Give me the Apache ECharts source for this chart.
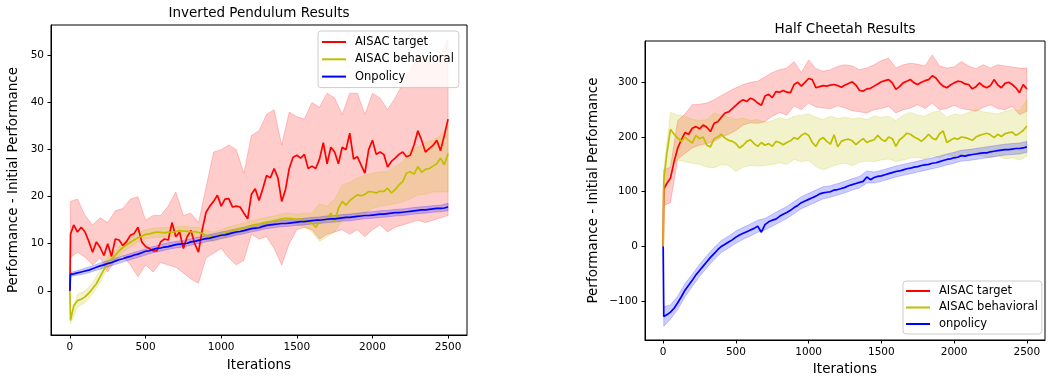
<!DOCTYPE html>
<html>
<head>
<meta charset="utf-8">
<style>
  html, body { margin: 0; padding: 0; background: #fff; }
  #main { width: 1053px; height: 382px; }
</style>
</head>
<body>
<div id="main"></div>
<script src="https://cdn.jsdelivr.net/npm/echarts@6/dist/echarts.min.js"></script>
<script>
// sample positions (iterations) for the mean curves and for the shaded bands
var iters = [0, 4];
for (var i = 25; i <= 2500; i += 25) iters.push(i);
var bandIters = [0, 4];
for (var j = 50; j <= 2500; j += 50) bandIters.push(j);

var xTicks = [0, 500, 1000, 1500, 2000, 2500];
var yTicksLeft = [0, 10, 20, 30, 40, 50];
var yTicksRight = [-100, 0, 100, 200, 300];

var namesLeft = ['AISAC target', 'AISAC behavioral', 'Onpolicy'];
var namesRight = ['AISAC target', 'AISAC behavioral', 'onpolicy'];

// ---- Inverted Pendulum ----
var targetL = [0, 12,
  14, 12.5, 13.5, 12.5, 10.5, 8.2, 10.4, 9.2, 7.5, 10,
  7.3, 11, 10.8, 9.6, 10.5, 11.8, 12.2, 13.5, 10.4, 9.4,
  9, 8.5, 8.5, 10.4, 11, 10.8, 14.5, 11.5, 12.5, 9,
  11.5, 12.8, 10, 8.2, 13, 16.7, 18, 19, 20.3, 18,
  19.5, 19.6, 17.8, 18, 17.8, 16.5, 15.3, 20.5, 21.7, 19.2,
  21.7, 24.5, 24, 26, 24, 19, 21.5, 26, 28.4, 28.8,
  28.2, 29, 26, 26.5, 26, 28, 31.5, 27, 30.5, 29.5,
  27, 30.5, 30, 33.5, 28, 28.5, 26.7, 25, 30, 32,
  29, 29.5, 29, 26.3, 27.5, 28.2, 29, 29.5, 28.5, 28.8,
  31, 34, 32, 29.5, 30.2, 30.9, 32, 29.8, 33, 36.5];
var behavL = [0, -6.3,
  -3.2, -2.1, -1.8, -1.3, -0.5, 0.5, 1.5, 3, 4.5, 6,
  6.8, 7.5, 8.5, 9.2, 9.8, 10.3, 10.8, 11.3, 11.6, 12,
  12.1, 12.3, 12.5, 12.4, 12.3, 12.5, 12.4, 12.6, 12.8, 12.7,
  12.7, 12.5, 12.6, 12.4, 12.2, 11.8, 11.6, 11.5, 11.7, 12,
  12.3, 12.6, 12.8, 13, 13.2, 13.4, 13.6, 13.9, 14.1, 14.2,
  14.4, 14.6, 14.7, 14.9, 15.1, 15.3, 15.4, 15.4, 15.3, 15.2,
  15.3, 15, 14.7, 14.4, 13.5, 14.8, 15, 15.2, 16.5, 14.8,
  17.5, 19, 18.2, 19.2, 19.8, 20.4, 20.2, 20.5, 21.1, 21,
  20.8, 21.2, 21.1, 21.8, 20.8, 21.5, 22.5, 23.2, 25, 25.3,
  24.8, 26.4, 25.2, 25.8, 26, 26.5, 27, 28.2, 26.8, 29.2];
var onpolL = [0, 3.5,
  3.6, 3.8, 4, 4.2, 4.4, 4.7, 5, 5.3, 5.5, 5.8,
  6, 6.3, 6.6, 6.8, 7.1, 7.3, 7.6, 7.8, 8.1, 8.4,
  8.5, 8.8, 9, 9.1, 9.3, 9.4, 9.6, 9.8, 9.9, 10,
  10.1, 10.4, 10.5, 10.7, 10.9, 11.1, 11.2, 11.4, 11.6, 11.8,
  11.9, 12.1, 12.3, 12.5, 12.6, 12.8, 13, 13.2, 13.3, 13.4,
  13.7, 13.9, 14, 14.1, 14.2, 14.3, 14.3, 14.4, 14.5, 14.6,
  14.7, 14.7, 14.8, 14.9, 15, 15, 15.1, 15.2, 15.3, 15.3,
  15.4, 15.5, 15.6, 15.6, 15.7, 15.8, 15.9, 16, 16, 16.1,
  16.2, 16.3, 16.3, 16.4, 16.5, 16.6, 16.6, 16.7, 16.8, 16.9,
  17, 17.1, 17.2, 17.2, 17.3, 17.4, 17.5, 17.5, 17.6, 17.8];

var targetLoL = [0, 7,
  8.2, 7.2, 5.5, 7, 4, 6.5, 7.5, 5.5, 3, 5.5,
  4, 6, 5.5, 5, 3.8, 2.5, 1.6, 7, 8, 9,
  7, 5.5, 6.5, 12, 11, 11.5, 9, 5.5, 10, 13,
  13.5, 13, 11, 12, 12.5, 13, 12, 13, 11.5, 13,
  14, 12.5, 13.5, 14, 14.5, 15, 14.5, 15, 15.5, 16];
var targetHiL = [0, 19,
  19.5, 16, 14, 15.5, 14.5, 17, 17.5, 19.5, 20, 15,
  16, 16, 18, 21, 16, 16.5, 14.5, 22, 29.5, 30,
  31, 30, 25, 33, 34, 37.5, 38.5, 31, 38, 37,
  36.5, 40, 39, 42, 41, 37.5, 42, 42, 37.5, 42,
  41, 38.5, 41, 44, 47, 50, 49, 48, 50, 53.5];
var behavLoL = [0, -7,
  -3.5, -2.5, -0.7, 1.8, 4.8, 6.6, 8.2, 9.3, 10.3, 11,
  11.3, 11.4, 11.5, 11.6, 11.7, 11.5, 11.3, 10.8, 10.5, 11,
  11.6, 12, 12.4, 12.9, 13.2, 13.6, 13.9, 14.2, 14.4, 14.2,
  13.5, 12.5, 10.5, 11.5, 12.5, 15, 15.5, 16, 16.5, 17.5,
  18, 18.2, 18.5, 18.9, 19.5, 20.4, 20.5, 21, 21, 21];
var behavHiL = [0, -5.5,
  -0.8, 0, 1.7, 4.3, 7.3, 8.6, 10.2, 11.3, 12.3, 13,
  13.3, 13.4, 13.5, 13.6, 13.7, 13.5, 13.5, 12.8, 12.5, 13,
  13.6, 14, 14.4, 14.9, 15.3, 15.6, 15.9, 16.4, 16.5, 16.3,
  16.5, 16.5, 18.5, 18, 19.5, 22.5, 23, 24, 24.5, 25,
  25.3, 25.3, 26.5, 27.4, 30, 30.5, 31.5, 32, 33, 35];
var onpolLoL = [0, 3.1,
  3.3, 3.6, 4.1, 4.6, 5.1, 5.6, 6.1, 6.6, 7.1, 7.6,
  8.1, 8.4, 8.8, 9.1, 9.3, 9.7, 10, 10.4, 10.7, 11.1,
  11.4, 11.8, 12.1, 12.5, 12.8, 13.2, 13.4, 13.6, 13.7, 13.9,
  14, 14.2, 14.3, 14.5, 14.6, 14.8, 14.9, 15.1, 15.3, 15.4,
  15.6, 15.7, 15.9, 16, 16.2, 16.4, 16.5, 16.7, 16.8, 17];
var onpolHiL = [0, 3.9,
  4.3, 4.8, 5.3, 5.9, 6.4, 6.9, 7.4, 7.9, 8.4, 8.9,
  9.4, 9.8, 10.2, 10.5, 10.7, 11.1, 11.4, 11.8, 12.1, 12.5,
  12.8, 13.2, 13.5, 13.9, 14.2, 14.6, 14.8, 15, 15.1, 15.3,
  15.4, 15.6, 15.7, 15.9, 16, 16.2, 16.3, 16.5, 16.7, 16.8,
  17, 17.1, 17.3, 17.4, 17.6, 17.8, 17.9, 18.1, 18.2, 18.6];

// ---- Half Cheetah ----
var targetR = [0, 105,
  115, 125, 155, 180, 195, 208, 205, 216, 219, 215,
  222, 218, 210, 225, 228, 236, 244, 246, 252, 258,
  264, 268, 265, 271, 268, 262, 258, 275, 278, 272,
  283, 282, 285, 282, 281, 296, 300, 293, 300, 307,
  305, 290, 292, 294, 293, 295, 296, 294, 291, 295,
  298, 301, 295, 285, 284, 288, 289, 293, 297, 301,
  303, 305, 299, 287, 292, 299, 302, 305, 299, 296,
  300, 303, 305, 312, 308, 299, 293, 290, 295, 299,
  302, 301, 297, 296, 288, 292, 299, 293, 290, 294,
  305, 295, 290, 298, 300, 296, 290, 281, 296, 288];
var behavR = [0, 120,
  170, 214, 205, 198, 192, 200, 194, 189, 203, 197,
  200, 185, 182, 197, 200, 205, 198, 194, 192, 188,
  180, 185, 192, 195, 188, 183, 190, 185, 188, 183,
  192, 190, 186, 190, 193, 199, 196, 203, 207, 203,
  190, 183, 195, 199, 192, 187, 204, 182, 192, 195,
  196, 193, 186, 192, 197, 190, 193, 195, 203, 196,
  192, 200, 197, 183, 195, 200, 207, 205, 200, 197,
  192, 198, 205, 198, 195, 206, 211, 190, 194, 198,
  196, 200, 199, 197, 194, 200, 203, 205, 207, 204,
  199, 205, 201, 206, 208, 209, 203, 207, 212, 220];
var onpolR = [0, -128,
  -125, -120, -113, -103, -92, -80, -71, -62, -52, -44,
  -36, -28, -20, -13, -6, 0, 4, 8, 12, 17,
  21, 24, 27, 30, 33, 37, 26, 40, 45, 48,
  50, 55, 59, 62, 66, 71, 75, 80, 83, 86,
  89, 92, 96, 98, 99, 100, 103, 104, 106, 108,
  111, 113, 115, 117, 119, 127, 122, 126, 128, 129,
  131, 133, 135, 137, 138, 140, 142, 143, 145, 146,
  148, 149, 150, 152, 153, 155, 157, 159, 160, 162,
  163, 166, 165, 167, 168, 169, 170, 171, 171, 173,
  174, 175, 176, 177, 177, 178, 179, 179, 180, 182];

var targetLoR = [0, 75,
  80, 160, 170, 180, 185, 188, 192, 200, 205, 212,
  222, 226, 225, 228, 238, 245, 240, 257, 250, 262,
  255, 253, 252, 257, 253, 248, 246, 244, 250, 252,
  256, 244, 250, 253, 259, 252, 262, 250, 252, 258,
  252, 250, 247, 254, 259, 252, 250, 256, 241, 247];
var targetHiR = [0, 140,
  145, 230, 242, 259, 260, 262, 268, 276, 283, 290,
  296, 300, 302, 310, 318, 323, 326, 338, 318, 341,
  325, 320, 323, 329, 332, 330, 323, 326, 332, 340,
  344, 326, 332, 335, 333, 330, 350, 330, 326, 328,
  338, 330, 325, 332, 326, 332, 330, 328, 326, 326];
var behavLoR = [0, 90,
  150, 158, 155, 152, 150, 145, 144, 150, 148, 137,
  145, 148, 147, 148, 150, 153, 150, 159, 155, 157,
  146, 140, 145, 150, 152, 148, 154, 156, 155, 158,
  160, 155, 158, 162, 163, 160, 166, 162, 168, 164,
  166, 165, 168, 165, 162, 166, 160, 162, 158, 165];
var behavHiR = [0, 140,
  245, 240, 238, 232, 230, 232, 244, 240, 236, 232,
  235, 230, 232, 226, 230, 235, 232, 238, 240, 242,
  236, 232, 238, 234, 236, 233, 235, 232, 238, 236,
  238, 230, 240, 245, 240, 238, 245, 248, 236, 242,
  240, 245, 250, 246, 244, 242, 247, 250, 248, 268];
var onpolLoR = [0, -146,
  -133, -115, -92, -73, -55, -39, -24, -11, -3, 6,
  13, 19, 26, 30, 37, 44, 51, 60, 69, 75,
  81, 87, 90, 94, 98, 103, 107, 116, 116, 119,
  123, 127, 130, 133, 136, 139, 142, 145, 149, 152,
  156, 157, 159, 161, 163, 165, 167, 168, 169, 172];
var onpolHiR = [0, -110,
  -107, -91, -68, -51, -33, -17, -2, 11, 19, 28,
  35, 41, 48, 51, 59, 66, 73, 82, 91, 97,
  103, 109, 111, 115, 119, 124, 128, 138, 136, 139,
  143, 147, 150, 153, 156, 159, 162, 165, 169, 172,
  176, 177, 179, 181, 183, 185, 187, 188, 189, 192];

[targetL, behavL, onpolL, targetR, behavR, onpolR].forEach(function (a) {
  if (a.length !== iters.length) throw new Error('mean length ' + a.length);
});
[targetLoL, targetHiL, behavLoL, behavHiL, onpolLoL, onpolHiL,
 targetLoR, targetHiR, behavLoR, behavHiR, onpolLoR, onpolHiR].forEach(function (a) {
  if (a.length !== bandIters.length) throw new Error('band length ' + a.length);
});

var RED = '#ff0000', YEL = '#bfbf00', BLUE = '#0000ff';
var FONT = 'DejaVu Sans';

function line(name, ys, color, idx) {
  return {
    type: 'line', name: name, xAxisIndex: idx, yAxisIndex: idx,
    data: iters.map(function (x, k) { return [x, ys[k]]; }),
    showSymbol: false, symbol: 'none', silent: true,
    lineStyle: { color: color, width: 1.7 },
    itemStyle: { color: color }
  };
}

// filled region between lo and hi, projected through the axes
function band(lo, hi, fill, idx) {
  return {
    type: 'custom', name: 'band', xAxisIndex: idx, yAxisIndex: idx, silent: true,
    data: bandIters.map(function (x, k) { return [x, lo[k], hi[k]]; }),
    encode: { x: 0, y: [1, 2] },
    renderItem: function (params, api) {
      if (params.dataIndex !== 0) return;
      var up = [], down = [];
      for (var k = 0; k < bandIters.length; k++) {
        up.push(api.coord([bandIters[k], hi[k]]));
        down.push(api.coord([bandIters[k], lo[k]]));
      }
      return {
        type: 'polygon',
        shape: { points: up.concat(down.reverse()) },
        style: { fill: fill, stroke: fill, lineWidth: 1 }
      };
    }
  };
}

function plainNum(v) { return String(v).replace('-', '\u2212'); }

function xAxis(idx, gap) {
  return {
    gridIndex: idx, type: 'value', min: -125, max: 2625,
    name: 'Iterations', nameLocation: 'middle', nameGap: gap,
    nameTextStyle: { fontSize: 13.5, color: '#000', fontFamily: FONT },
    axisLine: { show: true, onZero: false, lineStyle: { color: '#000', width: 1 } },
    axisTick: { show: true, length: 3.5, customValues: xTicks, lineStyle: { color: '#000' } },
    axisLabel: { customValues: xTicks, fontSize: 10.5, color: '#000', fontFamily: FONT, margin: 7, formatter: plainNum },
    splitLine: { show: false }
  };
}

function yAxis(idx, min, max, ticks, gap) {
  return {
    gridIndex: idx, type: 'value', min: min, max: max,
    name: 'Performance - Initial Performance', nameLocation: 'middle', nameGap: gap,
    nameTextStyle: { fontSize: 13.5, color: '#000', fontFamily: FONT },
    axisLine: { show: true, onZero: false, lineStyle: { color: '#000', width: 1 } },
    axisTick: { show: true, length: 3.5, customValues: ticks, lineStyle: { color: '#000' } },
    axisLabel: { customValues: ticks, fontSize: 10.5, color: '#000', fontFamily: FONT, margin: 7, formatter: plainNum },
    splitLine: { show: false }
  };
}

function legend(names, left, top, gap, pad) {
  return {
    data: names, left: left, top: top, orient: 'vertical',
    icon: 'rect', itemWidth: 24, itemHeight: 2, itemGap: gap, padding: pad,
    borderColor: '#cccccc', borderWidth: 1, borderRadius: 3,
    backgroundColor: 'rgba(255,255,255,0.8)', selectedMode: false,
    textStyle: { fontSize: 11.5, color: '#000', fontFamily: FONT, lineHeight: 14, padding: [0, 0, 0, 4] }
  };
}

var chart = echarts.init(document.getElementById('main'), null, { renderer: 'canvas' });

chart.setOption({
  animation: false,
  backgroundColor: '#fff',
  textStyle: { fontFamily: FONT },
  grid: [
    { left: 51, top: 25, width: 416, height: 310, show: true, borderColor: '#000', borderWidth: 1, backgroundColor: 'transparent' },
    { left: 645, top: 41, width: 400, height: 299, show: true, borderColor: '#000', borderWidth: 1, backgroundColor: 'transparent' }
  ],
  xAxis: [xAxis(0, 23), xAxis(1, 22)],
  yAxis: [yAxis(0, -9.4, 56.5, yTicksLeft, 31), yAxis(1, -171, 375.5, yTicksRight, 45)],
  legend: [
    legend(namesLeft, 318, 31, 3.3, [4, 5, 4, 4]),
    legend(namesRight, 903, 281, 2.5, [3, 4, 3, 3])
  ],
  graphic: [
    { type: 'text', style: { text: 'Inverted Pendulum Results', x: 259, y: 13, textAlign: 'center', textVerticalAlign: 'middle', font: '13.5px "DejaVu Sans"', fill: '#000' } },
    { type: 'text', style: { text: 'Half Cheetah Results', x: 845, y: 29.5, textAlign: 'center', textVerticalAlign: 'middle', font: '13.5px "DejaVu Sans"', fill: '#000' } }
  ],
  series: [
    band(targetLoL, targetHiL, 'rgba(255,0,0,0.2)', 0),
    line(namesLeft[0], targetL, RED, 0),
    band(behavLoL, behavHiL, 'rgba(191,191,0,0.2)', 0),
    line(namesLeft[1], behavL, YEL, 0),
    band(onpolLoL, onpolHiL, 'rgba(0,0,255,0.2)', 0),
    line(namesLeft[2], onpolL, BLUE, 0),

    band(targetLoR, targetHiR, 'rgba(255,0,0,0.2)', 1),
    line(namesRight[0], targetR, RED, 1),
    band(behavLoR, behavHiR, 'rgba(191,191,0,0.2)', 1),
    line(namesRight[1], behavR, YEL, 1),
    band(onpolLoR, onpolHiR, 'rgba(0,0,255,0.2)', 1),
    line(namesRight[2], onpolR, BLUE, 1)
  ]
});
</script>
</body>
</html>
